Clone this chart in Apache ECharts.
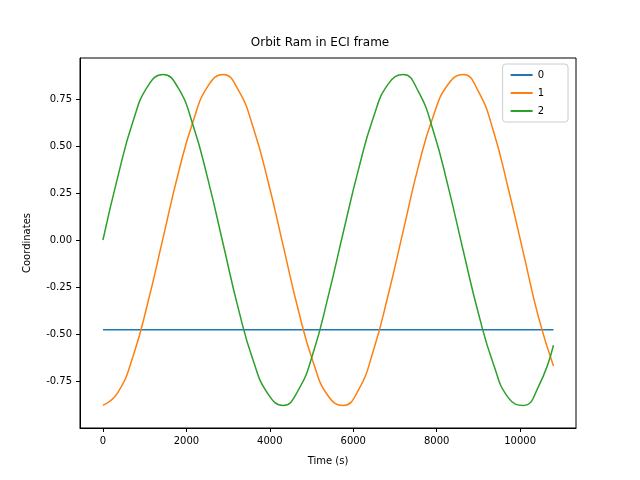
<!DOCTYPE html>
<html><head><meta charset="utf-8">
<script src="https://cdn.jsdelivr.net/npm/echarts@6/dist/echarts.min.js"></script>
<style>html,body{margin:0;background:#fff}#c{width:640px;height:480px}</style>
</head><body><div id="c"></div>
<script>
// time samples (s), every 360 s
const times = [0,360,720,1080,1440,1800,2160,2520,2880,3240,3600,3960,4320,4680,5040,5400,5760,6120,6480,6840,7200,7560,7920,8280,8640,9000,9360,9720,10080,10440,10800];
const s0 = times.map(() => -0.477);
const s1 = [-0.88,-0.81,-0.62,-0.33,0.01,0.35,0.63,0.82,0.88,0.80,0.60,0.31,-0.03,-0.37,-0.65,-0.83,-0.88,-0.80,-0.59,-0.29,0.05,0.39,0.66,0.83,0.88,0.79,0.58,0.27,-0.07,-0.41,-0.67];
const s2 = [0,0.34,0.63,0.82,0.88,0.81,0.61,0.32,-0.02,-0.36,-0.64,-0.82,-0.88,-0.80,-0.60,-0.30,0.04,0.37,0.65,0.83,0.88,0.79,0.58,0.28,-0.06,-0.39,-0.66,-0.84,-0.88,-0.78,-0.56];
const xTicks = [0,2000,4000,6000,8000,10000];
const yTicks = [-0.75,-0.5,-0.25,0,0.25,0.5,0.75];
const names = ['0','1','2'];
const colors = ['#1f77b4','#ff7f0e','#2ca02c'];

const chart = echarts.init(document.getElementById('c'));
const txt = {color:'#000', fontFamily:'DejaVu Sans', fontSize:10};
chart.setOption({
  animation:false,
  title:{text:'Orbit Ram in ECI frame', left:'center', top:32, textStyle:{fontFamily:'DejaVu Sans', fontSize:12, fontWeight:'normal', color:'#000'}},
  legend:{orient:'vertical', right:72, top:64, itemWidth:22, itemHeight:2, itemGap:8,
    textStyle:txt, backgroundColor:'#fff', borderColor:'#ccc', borderWidth:1, borderRadius:3, padding:[6,24,6,8],
    data:names.map(n=>({name:n, icon:'rect'}))},
  grid:{left:80, right:64, top:58, bottom:52, show:true, borderColor:'#000', borderWidth:1},
  xAxis:{type:'value', min:-550, max:11340, name:'Time (s)', nameLocation:'middle', nameGap:28, nameTextStyle:txt,
    axisLine:{show:true, onZero:false, lineStyle:{color:'#000'}}, splitLine:{show:false},
    axisTick:{show:true, customValues:xTicks, length:4, lineStyle:{color:'#000'}},
    axisLabel:{customValues:xTicks, ...txt, formatter:v=>String(v)}},
  yAxis:{type:'value', min:-1.0, max:0.968, name:'Coordinates', nameLocation:'middle', nameGap:48, nameTextStyle:txt,
    axisLine:{show:true, onZero:false, lineStyle:{color:'#000'}}, splitLine:{show:false},
    axisTick:{show:true, customValues:yTicks, length:4, lineStyle:{color:'#000'}},
    axisLabel:{customValues:yTicks, ...txt, formatter:v=>v.toFixed(2)}},
  series:[s0,s1,s2].map((s,i)=>({name:names[i], type:'line', smooth:0.5, symbol:'none',
    data:times.map((t,j)=>[t,s[j]]), lineStyle:{color:colors[i], width:1.5}, itemStyle:{color:colors[i]}}))
});
</script></body></html>
